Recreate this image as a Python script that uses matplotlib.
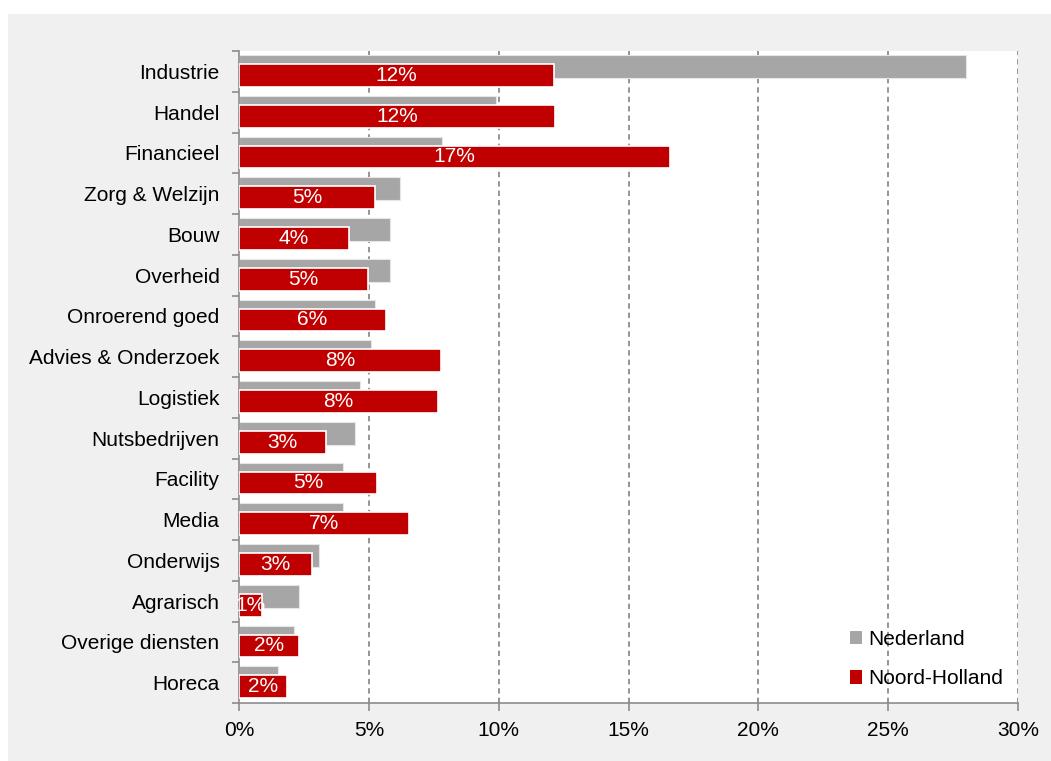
import matplotlib.pyplot as plt
from matplotlib.patches import Rectangle, Patch
import numpy as np

# Sector shares, in percent
sectors = [
    "Industrie", "Handel", "Financieel", "Zorg & Welzijn", "Bouw", "Overheid",
    "Onroerend goed", "Advies & Onderzoek", "Logistiek", "Nutsbedrijven",
    "Facility", "Media", "Onderwijs", "Agrarisch", "Overige diensten", "Horeca",
]
nederland = [28.0, 9.9, 7.8, 6.2, 5.8, 5.8, 5.25, 5.1, 4.65, 4.47,
             4.0, 4.0, 3.08, 2.32, 2.12, 1.5]
noord_holland = [12.13, 12.17, 16.6, 5.24, 4.24, 4.97, 5.65, 7.77, 7.66, 3.34,
                 5.31, 6.55, 2.83, 0.9, 2.3, 1.84]
xticks = [0, 5, 10, 15, 20, 25, 30]

grey = '#a6a6a6'
red = '#c00000'
axis_grey = '#8c8c8c'
font = ['Liberation Sans', 'DejaVu Sans']
fs = 15

plt.rcParams['font.family'] = font

fig = plt.figure(figsize=(10.51, 7.61), dpi=100)
fig.patch.set_facecolor('white')
# Light grey panel behind the chart
fig.patches.append(Rectangle((8 / 1051, 0), 1, 1 - 14 / 761,
                             transform=fig.transFigure, facecolor='#f0f0f0',
                             edgecolor='none', zorder=-1))

ax = fig.add_axes([239 / 1051, 1 - 703 / 761, 779 / 1051, 652 / 761])
ax.set_facecolor('white')

y = np.arange(len(sectors))
bar_h = 0.56
ax.barh(y - 0.12, nederland, height=bar_h, color=grey,
        edgecolor='#e6e6e6', linewidth=0.8, zorder=2, label='Nederland')
bars = ax.barh(y + 0.1, noord_holland, height=bar_h, color=red,
               edgecolor='white', linewidth=1.2, zorder=3, label='Noord-Holland')

for rect, val in zip(bars, noord_holland):
    ax.text(rect.get_x() + rect.get_width() / 2, rect.get_y() + rect.get_height() / 2,
            f"{val:.0f}%", color='white', ha='center', va='center',
            fontsize=fs, zorder=4)

ax.set_xlim(0, 30)
ax.set_ylim(len(sectors) - 0.5, -0.5)
ax.set_xticks(xticks)
ax.set_xticklabels([f"{t}%" for t in xticks], fontsize=fs)
ax.set_yticks(y)
ax.set_yticklabels(sectors, fontsize=fs)
ax.set_yticks(np.arange(len(sectors) + 1) - 0.5, minor=True)

ax.tick_params(axis='y', which='major', length=0, pad=14)
ax.tick_params(axis='y', which='minor', length=5, width=1.2, color=axis_grey)
ax.tick_params(axis='x', length=6, width=1.2, color=axis_grey, pad=7)

for x in xticks[1:]:
    ax.axvline(x, color=axis_grey, linestyle=(0, (3, 2.2)), linewidth=1.3, zorder=1)

for side in ['top', 'right']:
    ax.spines[side].set_visible(False)
for side in ['left', 'bottom']:
    ax.spines[side].set_color(axis_grey)
    ax.spines[side].set_linewidth(1.2)

handles = [Patch(facecolor=grey, edgecolor='none', label='Nederland'),
           Patch(facecolor=red, edgecolor='none', label='Noord-Holland')]
ax.legend(handles=handles, loc='lower right', frameon=False, fontsize=fs,
          handlelength=0.6, handleheight=0.6, handletextpad=0.3,
          labelspacing=1.0, bbox_to_anchor=(1.0, 0.0), borderaxespad=0.3)

fig.savefig('out.png', dpi=100)
